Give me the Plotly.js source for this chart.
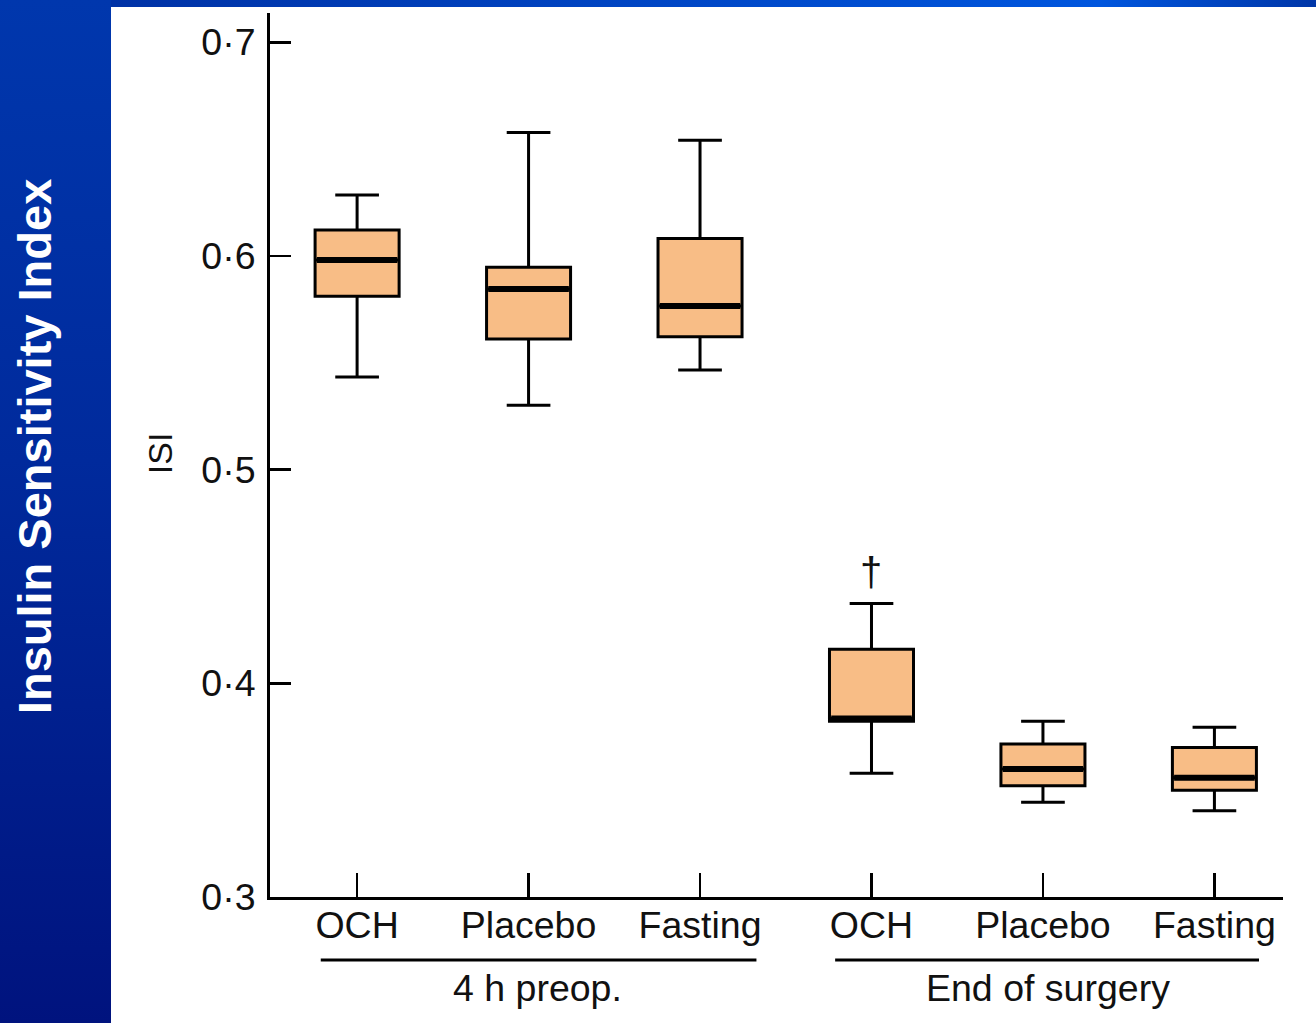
<!DOCTYPE html>
<html>
<head>
<meta charset="utf-8">
<script src="https://cdn.plot.ly/plotly-3.0.1.min.js"></script>
<style>
  html, body { margin: 0; padding: 0; background: #ffffff; }
  #leftPanel { position: absolute; left: 0; top: 0; width: 111px; height: 1023px;
    background: linear-gradient(to bottom, #0037AD 0%, #002A9C 45%, #00137E 100%); }
  #topStrip { position: absolute; left: 111px; top: 0; width: 1205px; height: 7px;
    background: linear-gradient(to right, #0032A6 0%, #0056DE 82%, #0036A8 100%); }
  #chart { position: absolute; left: 0; top: 0; width: 1316px; height: 1023px; }
</style>
</head>
<body>
<div id="leftPanel"></div>
<div id="topStrip"></div>
<div id="chart"></div>
<script>
// ---- data ----
const categories = ['OCH', 'Placebo', 'Fasting', 'OCH', 'Placebo', 'Fasting'];
const groupNames = ['4 h preop.', 'End of surgery'];
const lowerWhisker = [0.5433, 0.5301, 0.5466, 0.3579, 0.3443, 0.3404];
const q1Values     = [0.5812, 0.5611, 0.5622, 0.3822, 0.3521, 0.3499];
const medianValues = [0.5981, 0.5845, 0.5766, 0.3835, 0.3599, 0.3558];
const q3Values     = [0.6121, 0.5947, 0.6082, 0.4159, 0.3716, 0.3700];
const upperWhisker = [0.6285, 0.6578, 0.6541, 0.4374, 0.3822, 0.3794];
const yTickVals   = [0.3, 0.4, 0.5, 0.6, 0.7];
const yTickText   = ['0·3', '0·4', '0·5', '0·6', '0·7'];
const markLabel = '†';
const markIndex = 3;
const markValue = 0.452;

// ---- styling ----
const FONT = 'Liberation Sans, Arial, sans-serif';
const FILL = '#F8BD86';
const BOXW = 0.49;
const positions = categories.map((c, i) => i);

const boxTrace = {
  type: 'box',
  x: positions,
  q1: q1Values,
  median: medianValues,
  q3: q3Values,
  lowerfence: lowerWhisker,
  upperfence: upperWhisker,
  width: BOXW,
  whiskerwidth: 0.52,
  fillcolor: FILL,
  line: { color: '#000000', width: 3 },
  boxpoints: false,
  hoverinfo: 'skip',
  showlegend: false
};

// thicker median bars
const mx = [], my = [];
positions.forEach((p, i) => {
  mx.push(p - BOXW / 2 + 0.01, p + BOXW / 2 - 0.01, null);
  my.push(medianValues[i], medianValues[i], null);
});
const medianTrace = {
  type: 'scatter', mode: 'lines', x: mx, y: my,
  line: { color: '#000000', width: 6 },
  hoverinfo: 'skip', showlegend: false
};

const layout = {
  width: 1316, height: 1023,
  margin: { l: 270, r: 33, t: 13, b: 126, pad: 0 },
  paper_bgcolor: 'rgba(0,0,0,0)',
  plot_bgcolor: 'rgba(0,0,0,0)',
  font: { family: FONT, color: '#111111', size: 37.5 },
  showlegend: false,
  xaxis: {
    range: [-0.508, 5.40],
    tickmode: 'array', tickvals: positions, ticktext: categories,
    ticks: 'inside', ticklen: 24, tickwidth: 2.5, tickcolor: '#000',
    showline: true, linewidth: 3, linecolor: '#000',
    showgrid: false, zeroline: false,
    tickfont: { family: FONT, size: 37.5, color: '#111' },
    ticklabelstandoff: -7,
    fixedrange: true
  },
  yaxis: {
    range: [0.3, 0.7137],
    tickmode: 'array', tickvals: yTickVals, ticktext: yTickText,
    ticks: 'inside', ticklen: 21, tickwidth: 2.5, tickcolor: '#000',
    showline: true, linewidth: 3, linecolor: '#000',
    showgrid: false, zeroline: false,
    tickfont: { family: FONT, size: 37.5, color: '#111' },
    ticklabelstandoff: 4,
    fixedrange: true
  },
  shapes: [
    { type: 'line', xref: 'x', yref: 'paper', x0: -0.212, x1: 2.329, y0: -0.0713, y1: -0.0713,
      line: { color: '#000', width: 3 } },
    { type: 'line', xref: 'x', yref: 'paper', x0: 2.788, x1: 5.26, y0: -0.0713, y1: -0.0713,
      line: { color: '#000', width: 3 } }
  ],
  annotations: [
    { xref: 'x', yref: 'paper', x: 1.05, y: -0.103, text: groupNames[0], showarrow: false,
      xanchor: 'center', yanchor: 'middle', font: { family: FONT, size: 37.5, color: '#111' } },
    { xref: 'x', yref: 'paper', x: 4.03, y: -0.103, text: groupNames[1], showarrow: false,
      xanchor: 'center', yanchor: 'middle', font: { family: FONT, size: 37.5, color: '#111' } },
    { xref: 'x', yref: 'y', x: markIndex, y: markValue, text: markLabel, showarrow: false,
      xanchor: 'center', yanchor: 'middle', font: { family: FONT, size: 40, color: '#111' } },
    { xref: 'paper', yref: 'paper', x: -0.1086, y: 0.502, text: 'ISI', showarrow: false,
      textangle: -90, xanchor: 'center', yanchor: 'middle',
      font: { family: FONT, size: 34, color: '#111' } },
    { xref: 'paper', yref: 'paper', x: -0.233, y: 0.510, text: '<b>Insulin Sensitivity Index</b>',
      showarrow: false, textangle: -90, xanchor: 'center', yanchor: 'middle',
      font: { family: FONT, size: 47, color: '#ffffff' } }
  ]
};

Plotly.newPlot('chart', [boxTrace, medianTrace], layout, { displayModeBar: false, staticPlot: true });
</script>
</body>
</html>
